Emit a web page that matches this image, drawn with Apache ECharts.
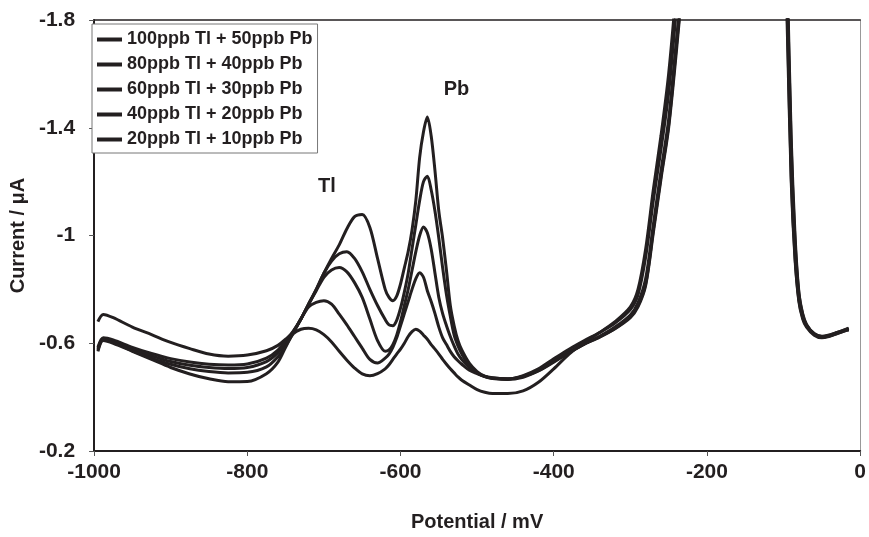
<!DOCTYPE html>
<html>
<head>
<meta charset="utf-8">
<script src="https://cdn.jsdelivr.net/npm/echarts@6/dist/echarts.min.js"></script>
<style>html,body{margin:0;padding:0;background:#fff}#c{width:869px;height:537px}</style>
</head>
<body>
<div id="c"></div>
<script>
var potential = [-995,-988,-975,-950,-925,-900,-875,-850,-825,-800,-775,-760,-750,-740,-730,-720,-710,-700,-690,-680,-670,-660,-650,-640,-630,-620,-615,-610,-605,-600,-595,-590,-585,-580,-575,-570,-565,-560,-555,-550,-545,-540,-535,-530,-525,-520,-510,-500,-490,-480,-460,-440,-420,-400,-380,-360,-340,-320,-300,-290,-280,-270,-260,-250,-240,-230,-220,-200,-150,-110,-100,-95,-90,-85,-80,-75,-70,-60,-50,-40,-30,-20,-15];

var s100 = [-0.68,-0.707,-0.695,-0.66,-0.632,-0.603,-0.58,-0.56,-0.552,-0.556,-0.572,-0.592,-0.615,-0.641,-0.69,-0.745,-0.80,-0.86,-0.915,-0.965,-1.025,-1.07,-1.078,-1.03,-0.915,-0.80,-0.77,-0.758,-0.775,-0.82,-0.88,-0.94,-1.02,-1.13,-1.29,-1.385,-1.44,-1.37,-1.24,-1.09,-0.99,-0.87,-0.74,-0.665,-0.61,-0.575,-0.525,-0.495,-0.478,-0.472,-0.467,-0.476,-0.498,-0.532,-0.566,-0.598,-0.624,-0.654,-0.695,-0.735,-0.815,-1.01,-1.21,-1.40,-1.68,-2.0,-2.4,-3.2,-4.0,-3.2,-2.4,-1.85,-1.28,-0.95,-0.77,-0.70,-0.665,-0.633,-0.623,-0.628,-0.638,-0.648,-0.652];
var s80 = [-0.585,-0.62,-0.612,-0.585,-0.562,-0.543,-0.530,-0.522,-0.519,-0.523,-0.545,-0.575,-0.61,-0.645,-0.69,-0.745,-0.80,-0.86,-0.905,-0.932,-0.94,-0.915,-0.865,-0.80,-0.74,-0.688,-0.668,-0.665,-0.685,-0.73,-0.79,-0.86,-0.95,-1.04,-1.13,-1.20,-1.22,-1.17,-1.09,-0.99,-0.88,-0.78,-0.70,-0.63,-0.59,-0.56,-0.515,-0.49,-0.476,-0.469,-0.465,-0.474,-0.497,-0.53,-0.565,-0.597,-0.623,-0.655,-0.70,-0.74,-0.82,-1.02,-1.22,-1.41,-1.70,-2.0,-2.4,-3.2,-4.0,-3.2,-2.45,-1.90,-1.33,-0.98,-0.785,-0.705,-0.668,-0.635,-0.625,-0.63,-0.64,-0.65,-0.655];
var s60 = [-0.58,-0.617,-0.607,-0.578,-0.553,-0.532,-0.518,-0.51,-0.506,-0.51,-0.532,-0.565,-0.603,-0.643,-0.69,-0.745,-0.795,-0.845,-0.872,-0.881,-0.865,-0.825,-0.77,-0.69,-0.61,-0.57,-0.575,-0.595,-0.63,-0.68,-0.74,-0.80,-0.87,-0.94,-1.0,-1.032,-1.01,-0.95,-0.86,-0.77,-0.71,-0.665,-0.625,-0.59,-0.56,-0.54,-0.51,-0.49,-0.477,-0.471,-0.468,-0.478,-0.50,-0.535,-0.568,-0.598,-0.626,-0.66,-0.705,-0.75,-0.84,-1.04,-1.24,-1.43,-1.72,-2.02,-2.4,-3.2,-4.0,-3.2,-2.35,-1.80,-1.22,-0.92,-0.76,-0.695,-0.663,-0.632,-0.622,-0.627,-0.636,-0.646,-0.65];
var s40 = [-0.575,-0.613,-0.603,-0.572,-0.545,-0.522,-0.505,-0.495,-0.49,-0.492,-0.512,-0.55,-0.59,-0.64,-0.69,-0.735,-0.752,-0.758,-0.745,-0.708,-0.668,-0.625,-0.582,-0.54,-0.527,-0.545,-0.56,-0.585,-0.62,-0.665,-0.71,-0.755,-0.80,-0.84,-0.862,-0.845,-0.795,-0.755,-0.71,-0.66,-0.62,-0.595,-0.57,-0.55,-0.535,-0.522,-0.50,-0.487,-0.476,-0.47,-0.467,-0.48,-0.505,-0.542,-0.578,-0.61,-0.64,-0.675,-0.725,-0.78,-0.92,-1.13,-1.32,-1.53,-1.84,-2.2,-2.6,-3.3,-4.0,-3.2,-2.5,-1.95,-1.36,-1.0,-0.79,-0.71,-0.67,-0.636,-0.626,-0.631,-0.64,-0.65,-0.656];
var s20 = [-0.57,-0.61,-0.60,-0.57,-0.54,-0.51,-0.486,-0.468,-0.457,-0.458,-0.487,-0.53,-0.585,-0.635,-0.652,-0.656,-0.65,-0.632,-0.605,-0.57,-0.537,-0.508,-0.486,-0.479,-0.487,-0.505,-0.52,-0.54,-0.56,-0.578,-0.60,-0.625,-0.643,-0.652,-0.645,-0.63,-0.615,-0.595,-0.578,-0.56,-0.54,-0.522,-0.505,-0.49,-0.475,-0.463,-0.445,-0.428,-0.418,-0.413,-0.413,-0.423,-0.455,-0.505,-0.56,-0.605,-0.64,-0.68,-0.735,-0.80,-0.95,-1.17,-1.37,-1.60,-1.92,-2.3,-2.7,-3.3,-4.0,-3.2,-2.3,-1.75,-1.20,-0.91,-0.755,-0.69,-0.66,-0.63,-0.62,-0.626,-0.636,-0.646,-0.65];

var seriesNames = ['100ppb Tl + 50ppb Pb','80ppb Tl + 40ppb Pb','60ppb Tl + 30ppb Pb','40ppb Tl + 20ppb Pb','20ppb Tl + 10ppb Pb'];
var seriesValues = [s100, s80, s60, s40, s20];
var xTicks = [-1000,-800,-600,-400,-200,0];
var yTicks = [-1.8,-1.4,-1,-0.6,-0.2];
var peakLabels = ['Tl', 'Pb'];
var peakLabelPos = [[-696, -1.182], [-527, -1.541]];

var FONT = '"Liberation Sans", Arial, sans-serif';
var INK = '#231f20';

function pairs(vals){ return potential.map(function(p,i){ return [p, vals[i]]; }); }

var series = seriesNames.map(function(n,i){
  return {
    name: n, type: 'line', data: pairs(seriesValues[i]),
    symbol: 'none', showSymbol: false, smooth: 0.3, clip: true,
    lineStyle: {color: INK, width: 3}, itemStyle: {color: INK},
    emphasis: {disabled: true}, z: 3
  };
});
series.push({
  type: 'scatter', silent: true, symbolSize: 0,
  itemStyle: {color: INK},
  emphasis: {disabled: true},
  data: peakLabels.map(function(t,i){ return {value: peakLabelPos[i], label: {formatter: t}}; }),
  label: {show: true, position: 'inside', color: INK, opacity: 1, fontFamily: FONT, fontWeight: 'bold', fontSize: 20}
});

var chart = echarts.init(document.getElementById('c'), null, {renderer: 'canvas'});
chart.setOption({
  animation: false,
  backgroundColor: '#fff',
  grid: {left: 88, right: 7, top: 20, bottom: 85, containLabel: false},
  legend: {
    data: seriesNames, orient: 'vertical', left: 92, top: 24,
    icon: 'rect', itemWidth: 25, itemHeight: 4, itemGap: 4,
    padding: [5, 5, 3, 5],
    borderColor: '#777', borderWidth: 1, backgroundColor: '#fff',
    textStyle: {color: INK, fontFamily: FONT, fontWeight: 'bold', fontSize: 18, lineHeight: 21},
    selectedMode: false
  },
  xAxis: [{
    type: 'value', min: -1000, max: 0, interval: 200,
    name: 'Potential / mV', nameLocation: 'middle', nameGap: 61,
    nameTextStyle: {color: INK, fontFamily: FONT, fontWeight: 'bold', fontSize: 20},
    axisLine: {show: true, onZero: false, lineStyle: {color: INK, width: 2}},
    axisTick: {show: true, length: 5, lineStyle: {color: '#555', width: 1}},
    axisLabel: {color: INK, fontFamily: FONT, fontWeight: 'bold', fontSize: 21, margin: 11,
      customValues: xTicks, formatter: function(v){ return String(v); }},
    splitLine: {show: false}
  }, {
    type: 'value', min: -1000, max: 0, position: 'top',
    axisLine: {show: true, onZero: false, lineStyle: {color: INK, width: 1.5}},
    axisTick: {show: false}, axisLabel: {show: false}, splitLine: {show: false}
  }],
  yAxis: [{
    type: 'value', min: -1.8, max: -0.2, inverse: true,
    name: 'Current / μA', nameLocation: 'middle', nameGap: 52,
    nameTextStyle: {color: INK, fontFamily: FONT, fontWeight: 'bold', fontSize: 20},
    axisLine: {show: true, onZero: false, lineStyle: {color: INK, width: 2}},
    axisTick: {show: true, length: 5, lineStyle: {color: '#555', width: 1}, customValues: yTicks},
    axisLabel: {color: INK, fontFamily: FONT, fontWeight: 'bold', fontSize: 21, margin: 19,
      customValues: yTicks, formatter: function(v){ return String(v); }},
    splitLine: {show: false}
  }, {
    type: 'value', min: -1.8, max: -0.2, inverse: true, position: 'right',
    axisLine: {show: true, onZero: false, lineStyle: {color: '#999', width: 1}},
    axisTick: {show: false}, axisLabel: {show: false}, splitLine: {show: false}
  }],
  series: series
});
</script>
</body>
</html>
